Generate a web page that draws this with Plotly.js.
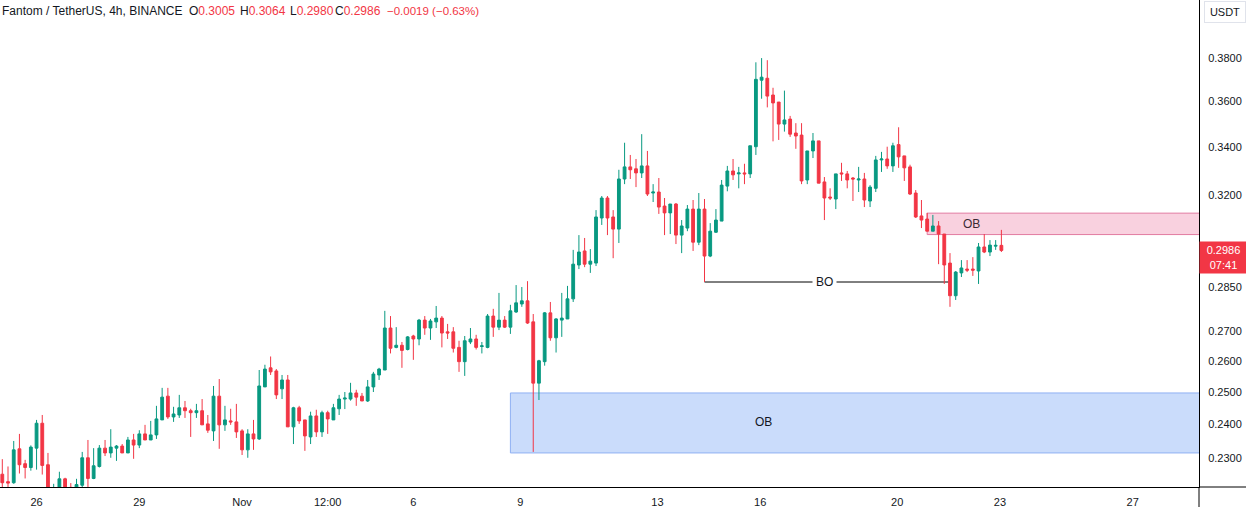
<!DOCTYPE html>
<html><head><meta charset="utf-8">
<script src="https://cdn.plot.ly/plotly-3.0.1.min.js"></script>
<style>html,body{margin:0;padding:0;background:#fff}#chart{width:1246px;height:507px}</style>
</head><body><div id="chart"></div>
<script>
const symbolTitle = 'Fantom / TetherUS, 4h, BINANCE';
const firstBarUTC = [2023, 9, 25, 0];   // 25 Oct, 00:00
const barHours = 4;

const opens = [
.2255,.2234,.2231,.2328,.2285,.2274,.2330,.2404,.2282,.2205,
.2212,.2242,.2218,.2212,.2224,.2302,.2243,.2277,.2330,.2316,
.2330,.2336,.2316,.2354,.2339,.2372,.2354,.2369,.2414,.2487,
.2423,.2429,.2451,.2442,.2436,.2442,.2402,.2381,.2487,.2399,
.2411,.2408,.2381,.2325,.2372,.2357,.2516,.2577,.2567,.2510,
.2538,.2393,.2451,.2414,.2363,.2426,.2378,.2436,.2414,.2448,
.2478,.2478,.2497,.2487,.2472,.2516,.2554,.2570,.2709,.2644,
.2651,.2637,.2682,.2672,.2736,.2709,.2730,.2743,.2696,.2696,
.2644,.2597,.2662,.2672,.2647,.2644,.2750,.2712,.2736,.2712,
.2764,.2792,.2803,.2730,.2528,.2597,.2761,.2676,.2736,.2740,
.2810,.2932,.2984,.2935,.2939,.3110,.3189,.3114,.3067,.3266,
.3316,.3308,.3291,.3320,.3209,.3213,.3157,.3130,.3165,.3044,
.3071,.3145,.3017,.3145,.2965,.3055,.3098,.3237,.3299,.3287,
.3291,.3287,.3401,.3697,.3706,.3629,.3597,.3499,.3521,.3460,
.3451,.3262,.3383,.3426,.3254,.3193,.3185,.3291,.3287,.3270,
.3262,.3266,.3177,.3228,.3345,.3349,.3320,.3410,.3362,.3316,
.3209,.3118,.3106,.3059,.3079,.3048,.2939,.2821,.2903,.2917,
.2917,.2910,.2999,.2980,.3002,.3005];
const highs = [
.2298,.2277,.2351,.2372,.2296,.2338,.2414,.2429,.2316,.2228,
.2262,.2245,.2230,.2242,.2319,.2354,.2330,.2339,.2354,.2386,
.2339,.2342,.2363,.2372,.2383,.2399,.2411,.2457,.2513,.2513,
.2454,.2491,.2472,.2448,.2463,.2478,.2429,.2519,.2541,.2457,
.2448,.2463,.2386,.2386,.2414,.2570,.2587,.2614,.2573,.2554,
.2554,.2454,.2457,.2414,.2439,.2445,.2442,.2442,.2463,.2491,
.2500,.2529,.2507,.2497,.2538,.2564,.2577,.2768,.2750,.2712,
.2662,.2682,.2686,.2740,.2750,.2740,.2785,.2750,.2723,.2712,
.2666,.2682,.2709,.2686,.2662,.2757,.2775,.2831,.2750,.2789,
.2859,.2852,.2873,.2757,.2603,.2764,.2799,.2743,.2831,.2856,
.2988,.3044,.3033,.2991,.3141,.3197,.3197,.3141,.3304,.3418,
.3366,.3349,.3455,.3383,.3245,.3270,.3189,.3165,.3169,.3102,
.3161,.3181,.3209,.3185,.3090,.3145,.3262,.3320,.3349,.3316,
.3329,.3405,.3781,.3801,.3791,.3662,.3597,.3649,.3535,.3503,
.3503,.3383,.3460,.3426,.3274,.3228,.3287,.3333,.3299,.3274,
.3316,.3291,.3241,.3362,.3379,.3401,.3418,.3485,.3362,.3325,
.3221,.3181,.3130,.3122,.3098,.3048,.2976,.2910,.2950,.2950,
.2961,.3014,.3048,.3025,.3025,.3064];
const lows = [
.2212,.2210,.2228,.2257,.2243,.2265,.2268,.2254,.2195,.2180,
.2200,.2190,.2195,.2200,.2215,.2218,.2241,.2274,.2307,.2302,
.2293,.2316,.2316,.2299,.2330,.2354,.2354,.2357,.2414,.2417,
.2408,.2420,.2420,.2363,.2420,.2399,.2375,.2351,.2328,.2381,
.2399,.2360,.2310,.2302,.2325,.2354,.2516,.2554,.2478,.2478,
.2393,.2342,.2402,.2322,.2342,.2363,.2363,.2372,.2414,.2429,
.2447,.2473,.2457,.2472,.2469,.2500,.2538,.2570,.2624,.2641,
.2577,.2634,.2603,.2651,.2686,.2669,.2709,.2644,.2672,.2627,
.2564,.2551,.2655,.2637,.2624,.2641,.2679,.2702,.2709,.2689,
.2761,.2782,.2723,.2319,.2475,.2584,.2666,.2627,.2679,.2740,
.2799,.2917,.2924,.2903,.2928,.3083,.3044,.2957,.3014,.3245,
.3266,.3233,.3270,.3197,.3173,.3126,.3044,.3048,.3010,.2976,
.3059,.2984,.3006,.2870,.2961,.3052,.3098,.3216,.3262,.3228,
.3245,.3270,.3366,.3612,.3573,.3424,.3430,.3466,.3443,.3392,
.3245,.3245,.3353,.3249,.3102,.3181,.3145,.3258,.3228,.3177,
.3213,.3153,.3153,.3213,.3295,.3308,.3295,.3312,.3258,.3201,
.3110,.3071,.3059,.3059,.2935,.2863,.2782,.2806,.2888,.2906,
.2892,.2863,.2976,.2965,.2988,.2980];
const closes = [
.2231,.2230,.2325,.2282,.2274,.2333,.2404,.2280,.2205,.2215,
.2242,.2205,.2210,.2226,.2302,.2243,.2279,.2330,.2316,.2333,
.2336,.2316,.2354,.2339,.2372,.2354,.2369,.2417,.2484,.2423,
.2432,.2451,.2442,.2436,.2442,.2399,.2383,.2487,.2399,.2414,
.2408,.2378,.2325,.2372,.2357,.2519,.2573,.2564,.2491,.2538,
.2393,.2451,.2411,.2366,.2426,.2378,.2436,.2417,.2451,.2478,
.2481,.2497,.2484,.2472,.2516,.2557,.2573,.2709,.2641,.2651,
.2634,.2679,.2672,.2736,.2709,.2733,.2743,.2692,.2692,.2641,
.2597,.2666,.2672,.2644,.2649,.2750,.2712,.2736,.2712,.2768,
.2796,.2803,.2726,.2528,.2600,.2761,.2676,.2740,.2743,.2810,
.2935,.2980,.2935,.2946,.3114,.3189,.3110,.3067,.3266,.3316,
.3304,.3291,.3320,.3205,.3213,.3153,.3130,.3165,.3044,.3079,
.3145,.3017,.3145,.2965,.3059,.3102,.3241,.3299,.3283,.3291,
.3287,.3405,.3701,.3711,.3624,.3593,.3499,.3517,.3455,.3447,
.3258,.3383,.3426,.3249,.3189,.3189,.3287,.3287,.3262,.3266,
.3266,.3181,.3233,.3345,.3349,.3320,.3405,.3358,.3312,.3205,
.3114,.3102,.3059,.3079,.3048,.2932,.2821,.2906,.2921,.2913,
.2913,.2999,.2980,.3006,.3005,.2986];

const priceTicks = [0.38, 0.36, 0.34, 0.32, 0.30, 0.285, 0.27, 0.26, 0.25, 0.24, 0.23];
const priceTickText = ['0.3800','0.3600','0.3400','0.3200','0.3000','0.2850','0.2700','0.2600','0.2500','0.2400','0.2300'];
// labels sit on the first bar of each day (exchange time)
const dateTicks = ['2023-10-26','2023-10-29','2023-11-01','2023-11-03 12:00','2023-11-06','2023-11-09 03:00','2023-11-13 03:00','2023-11-16 03:00','2023-11-20 03:00','2023-11-23 03:00','2023-11-27'];
const dateTickText = ['26','29','Nov','12:00','6','9','13','16','20','23','27'];

// header values (last bar)
const lastO = '0.3005', lastH = '0.3064', lastL = '0.2980', lastC = '0.2986';
const lastChange = '\u22120.0019 (\u22120.63%)';
const countdown = '07:41';

// drawings: bar index where they start, prices
const obLowerStartBar = 89, obLowerTop = 0.2497, obLowerBottom = 0.2316, obLowerTextBar = 133.4, obLowerTextPrice = 0.2407;
const obUpperStartBar = 162, obUpperTop = 0.3129, obUpperBottom = 0.3046, obUpperTextBar = 169.7, obUpperTextPrice = 0.3087;
const boStartBar = 123, boEndBar = 166, boPrice = 0.2870, boTextBar = 144.1;

const t0 = Date.UTC(firstBarUTC[0], firstBarUTC[1], firstBarUTC[2], firstBarUTC[3]);
function barTime(i){ return new Date(t0 + i*barHours*3600000).toISOString().slice(0,19).replace('T',' '); }
const times = closes.map((_, i) => barTime(i));

const W = 1199, H = 487;
const RED = '#f23645', GREEN = '#089981', TXT = '#131722';
const FONT = 'Liberation Sans, Arial, sans-serif';

const trace = {
  type: 'candlestick', x: times, open: opens, high: highs, low: lows, close: closes,
  increasing: {line: {color: GREEN, width: 1}, fillcolor: GREEN},
  decreasing: {line: {color: RED, width: 1}, fillcolor: RED},
  whiskerwidth: 0, hoverinfo: 'skip', showlegend: false
};

const farRight = barTime(260);
const shapes = [
  {type:'rect', xref:'x', yref:'y', x0: barTime(obLowerStartBar), x1: farRight, y0: obLowerBottom, y1: obLowerTop,
   fillcolor:'#cadcfb', line:{color:'#8fb0f3', width:1}, layer:'below'},
  {type:'rect', xref:'x', yref:'y', x0: barTime(obUpperStartBar), x1: farRight, y0: obUpperBottom, y1: obUpperTop,
   fillcolor:'#f9d1df', line:{color:'#e27aa0', width:1}, layer:'below'},
  {type:'line', xref:'x', yref:'y', x0: barTime(boStartBar), x1: barTime(boEndBar), y0: boPrice, y1: boPrice,
   line:{color:'#000000', width:1}, layer:'below'},
  {type:'line', xref:'paper', yref:'paper', x0: 1, x1: 1246/W, y0: 0, y1: 0, line:{color:'#000', width:1}},
  {type:'line', xref:'paper', yref:'paper', x0: 1, x1: 1, y0: 0, y1: -20/H, line:{color:'#000', width:1}}
];

function px(x){ return x / W; }
function py(y){ return 1 - y / H; }
const annotations = [
  {xref:'paper', yref:'paper', x: px(0), y: py(11), xanchor:'left', yanchor:'middle', showarrow:false,
   text: symbolTitle, font:{family:FONT, size:12, color:TXT}},
  {xref:'paper', yref:'paper', x: px(187), y: py(11), xanchor:'left', yanchor:'middle', showarrow:false,
   text: 'O<span style="color:'+RED+'">'+lastO+'</span>', font:{family:FONT, size:12, color:TXT}},
  {xref:'paper', yref:'paper', x: px(238), y: py(11), xanchor:'left', yanchor:'middle', showarrow:false,
   text: 'H<span style="color:'+RED+'">'+lastH+'</span>', font:{family:FONT, size:12, color:TXT}},
  {xref:'paper', yref:'paper', x: px(288), y: py(11), xanchor:'left', yanchor:'middle', showarrow:false,
   text: 'L<span style="color:'+RED+'">'+lastL+'</span>', font:{family:FONT, size:12, color:TXT}},
  {xref:'paper', yref:'paper', x: px(333), y: py(11), xanchor:'left', yanchor:'middle', showarrow:false,
   text: 'C<span style="color:'+RED+'">'+lastC+'</span>', font:{family:FONT, size:12, color:TXT}},
  {xref:'paper', yref:'paper', x: px(385), y: py(11), xanchor:'left', yanchor:'middle', showarrow:false,
   text: lastChange, font:{family:FONT, size:11.5, color:RED}},
  {xref:'x', yref:'y', x: barTime(obLowerTextBar), y: Math.log10(obLowerTextPrice), showarrow:false,
   text:'OB', font:{family:FONT, size:12, color:TXT}},
  {xref:'x', yref:'y', x: barTime(obUpperTextBar), y: Math.log10(obUpperTextPrice), showarrow:false,
   text:'OB', font:{family:FONT, size:12, color:'#3a2a33'}},
  {xref:'x', yref:'y', x: barTime(boTextBar), y: Math.log10(boPrice), showarrow:false,
   text:'BO', bgcolor:'#ffffff', borderpad:3, font:{family:FONT, size:12, color:TXT}},
  {xref:'paper', yref:'paper', x: px(1199), y: py(257.5), xanchor:'left', yanchor:'middle', showarrow:false,
   text: lastC + '<br>' + countdown, align:'center', bgcolor: RED, width: 45, height: 29, borderpad: 1,
   font:{family:FONT, size:11, color:'#ffffff'}},
  {xref:'paper', yref:'paper', x: px(1224.5), y: py(12), xanchor:'center', yanchor:'middle', showarrow:false,
   text:'USDT', bordercolor:'#e0e3eb', borderwidth:1, width: 38, height: 18, borderpad: 1,
   font:{family:FONT, size:11, color:TXT}}
];

const xStart = barTime(-2.3/5.709), xEnd = barTime((W - 2.3)/5.709);
const yMinPrice = 0.22191, yMaxPrice = 0.40884;

const layout = {
  width: 1246, height: 507,
  margin: {l:0, r:47, t:0, b:20, pad:0},
  paper_bgcolor:'#ffffff', plot_bgcolor:'#ffffff',
  showlegend:false, hovermode:false, dragmode:false,
  font:{family:FONT, size:11, color:TXT},
  xaxis: {type:'date', range:[xStart, xEnd], rangeslider:{visible:false},
          tickvals: dateTicks, ticktext: dateTickText, ticks:'outside', ticklen:5, tickcolor:'rgba(0,0,0,0)',
          showgrid:false, zeroline:false, showline:true, linecolor:'#000', linewidth:1,
          tickfont:{family:FONT, size:11, color:TXT}, fixedrange:true},
  yaxis: {type:'log', side:'right', range:[Math.log10(yMinPrice), Math.log10(yMaxPrice)],
          tickvals: priceTicks, ticktext: priceTickText, ticks:'outside', ticklen:6, tickcolor:'rgba(0,0,0,0)',
          showgrid:false, zeroline:false, showline:true, linecolor:'#000', linewidth:1,
          tickfont:{family:FONT, size:11, color:TXT}, fixedrange:true},
  shapes: shapes, annotations: annotations
};

Plotly.newPlot('chart', [trace], layout, {displayModeBar:false, staticPlot:true});
</script>
</body></html>
